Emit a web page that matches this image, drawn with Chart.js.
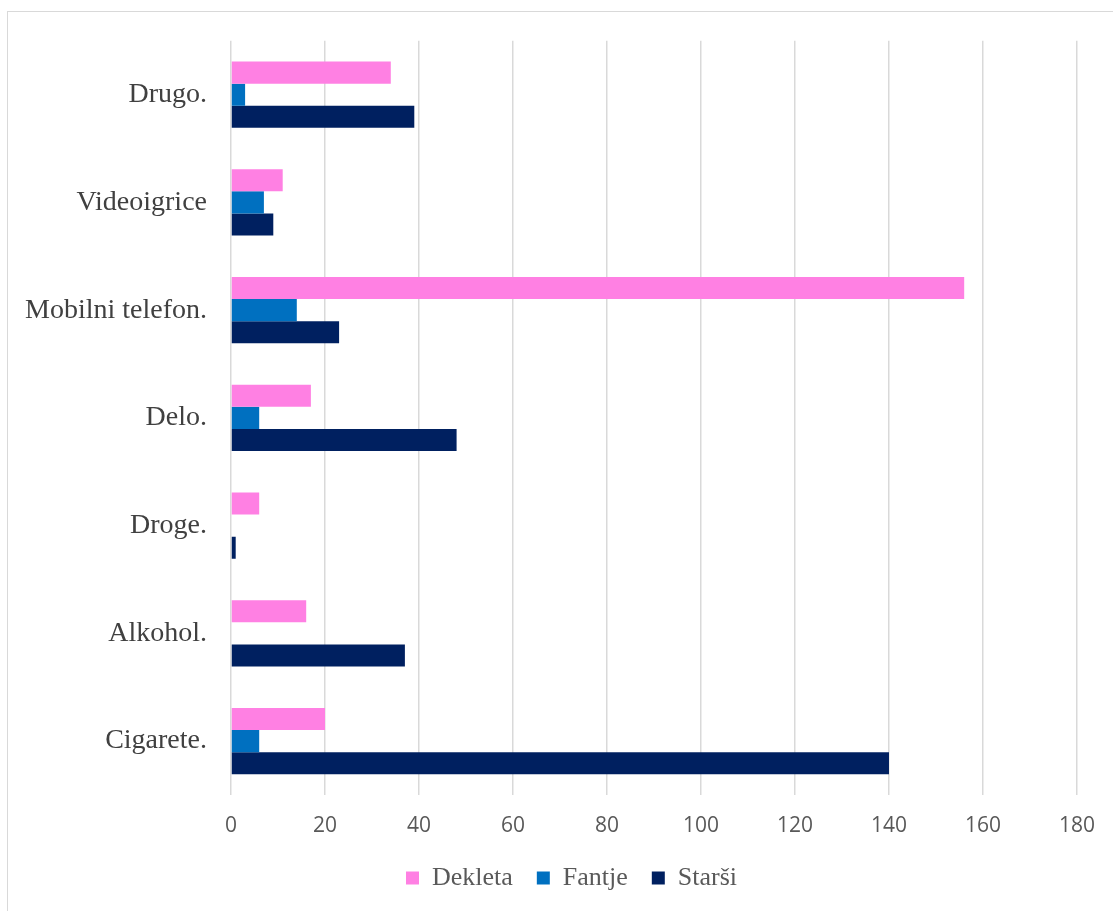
<!DOCTYPE html>
<html>
<head>
<meta charset="utf-8">
<script src="https://cdn.jsdelivr.net/npm/chart.js@4.4.1/dist/chart.umd.min.js"></script>
<style>
  html, body { margin: 0; padding: 0; background: #ffffff; }
  #frame { position: absolute; left: 7px; top: 11px; width: 1110px; height: 910px; border: 1px solid #d9d9d9; box-sizing: border-box; }
  #wrap { position: absolute; left: 0; top: 0; width: 1113px; height: 911px; }
</style>
</head>
<body>
<div id="frame"></div>
<div id="wrap"><canvas id="chart" width="1113" height="911"></canvas></div>
<script>
// Categories, listed top to bottom
const categories = ['Drugo.', 'Videoigrice', 'Mobilni telefon.', 'Delo.', 'Droge.', 'Alkohol.', 'Cigarete.'];

// Series values per category
const dekleta = [34, 11, 156, 17, 6, 16, 20];
const fantje  = [3, 7, 14, 6, 0, 0, 6];
const starsi  = [39, 9, 23, 48, 1, 37, 140];

// Axis ticks
const xTickValues = [0, 20, 40, 60, 80, 100, 120, 140, 160, 180];

const serif = "'Liberation Serif', 'Times New Roman', serif";
const sans = "'Open Sans', 'Noto Sans', sans-serif";

// Centre the legend under the whole frame rather than the padded chart box
const legendShift = {
  id: 'legendShift',
  afterLayout(chart) {
    const lg = chart.legend;
    if (lg) { lg.left += 30; lg.right += 30; }
  }
};

new Chart(document.getElementById('chart'), {
  type: 'bar',
  data: {
    labels: categories,
    datasets: [
      { label: 'Dekleta', data: dekleta, backgroundColor: '#ff80e3' },
      { label: 'Fantje', data: fantje, backgroundColor: '#0070c0' },
      { label: 'Starši', data: starsi, backgroundColor: '#002060' }
    ]
  },
  plugins: [legendShift],
  options: {
    indexAxis: 'y',
    responsive: false,
    animation: false,
    layout: { padding: { top: 40, right: 30, bottom: 10, left: 0 } },
    datasets: { bar: { categoryPercentage: 0.615, barPercentage: 1.0 } },
    scales: {
      x: {
        min: 0, max: 180,
        afterBuildTicks: (scale) => { scale.ticks = xTickValues.map(v => ({ value: v })); },
        afterFit: (scale) => { scale.height = 46; },
        grid: { color: '#d9d9d9', lineWidth: 1.5, drawTicks: false },
        border: { display: false },
        ticks: { color: '#595959', font: { family: sans, size: 21 }, padding: 18 }
      },
      y: {
        afterFit: (scale) => { scale.width = 231; },
        grid: { display: false, drawTicks: false },
        border: { display: false },
        ticks: { color: '#404040', font: { family: serif, size: 28 }, padding: 24 }
      }
    },
    plugins: {
      legend: {
        position: 'bottom',
        labels: {
          color: '#595959',
          font: { family: serif, size: 26 },
          boxWidth: 13, boxHeight: 13,
          padding: 24
        }
      },
      tooltip: { enabled: false }
    }
  }
});
</script>
</body>
</html>
